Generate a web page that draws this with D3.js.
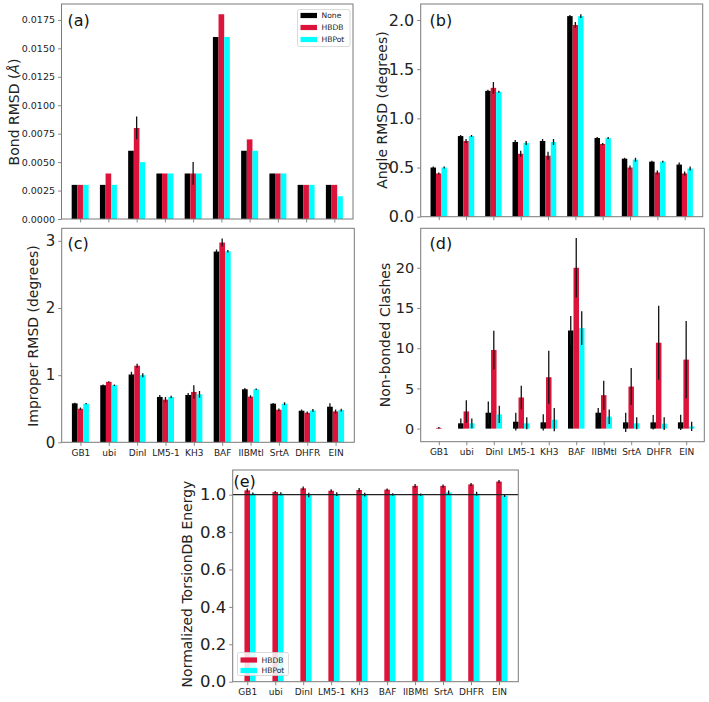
<!DOCTYPE html>
<html>
<head>
<meta charset="utf-8">
<script src="https://cdn.jsdelivr.net/npm/d3@7"></script>
<style>
  html, body { margin: 0; padding: 0; background: #fff; }
  svg { display: block; font-family: "DejaVu Sans", sans-serif; }
</style>
</head>
<body>
<svg id="chart" width="709" height="702"></svg>
<script>
// ---------------- DATA ----------------
const categories = ["GB1", "ubi", "DinI", "LM5-1", "KH3", "BAF", "IIBMtl", "SrtA", "DHFR", "EIN"];
const seriesNames = ["None", "HBDB", "HBPot"];

// (a) Bond RMSD
const bondNone  = [0.003, 0.003, 0.006, 0.004, 0.004, 0.016, 0.006, 0.004, 0.003, 0.003];
const bondHBDB  = [0.003, 0.004, 0.008, 0.004, 0.004, 0.018, 0.007, 0.004, 0.003, 0.003];
const bondHBPot = [0.003, 0.003, 0.005, 0.004, 0.004, 0.016, 0.006, 0.004, 0.003, 0.002];
const bondErrNone  = [0, 0, 0, 0, 0, 0, 0, 0, 0, 0];
const bondErrHBDB  = [0, 0, 0.001, 0, 0.001, 0, 0, 0, 0, 0];
const bondErrHBPot = [0, 0, 0, 0, 0, 0, 0, 0, 0, 0];
const bondTicks = [0, 0.0025, 0.005, 0.0075, 0.01, 0.0125, 0.015, 0.0175];

// (b) Angle RMSD
const angleNone  = [0.50, 0.82, 1.28, 0.76, 0.77, 2.04, 0.80, 0.59, 0.56, 0.53];
const angleHBDB  = [0.44, 0.77, 1.31, 0.64, 0.62, 1.95, 0.74, 0.50, 0.45, 0.44];
const angleHBPot = [0.50, 0.82, 1.27, 0.75, 0.76, 2.04, 0.80, 0.58, 0.56, 0.49];
const angleErrNone  = [0.01, 0.01, 0.01, 0.02, 0.02, 0.01, 0.01, 0.01, 0.01, 0.02];
const angleErrHBDB  = [0.01, 0.02, 0.06, 0.03, 0.04, 0.03, 0.01, 0.02, 0.02, 0.02];
const angleErrHBPot = [0.01, 0.01, 0.01, 0.02, 0.03, 0.02, 0.01, 0.02, 0.01, 0.02];
const angleTicks = [0, 0.5, 1.0, 1.5, 2.0];

// (c) Improper RMSD
const impNone  = [0.58, 0.85, 1.01, 0.675, 0.705, 2.84, 0.79, 0.575, 0.47, 0.53];
const impHBDB  = [0.50, 0.90, 1.14, 0.635, 0.75, 2.975, 0.68, 0.485, 0.44, 0.46];
const impHBPot = [0.575, 0.85, 1.00, 0.675, 0.715, 2.845, 0.79, 0.575, 0.475, 0.48];
const impErrNone  = [0.01, 0.01, 0.04, 0.03, 0.03, 0.03, 0.02, 0.01, 0.02, 0.05];
const impErrHBDB  = [0.02, 0.01, 0.03, 0.04, 0.10, 0.06, 0.02, 0.02, 0.02, 0.03];
const impErrHBPot = [0.01, 0.01, 0.03, 0.02, 0.05, 0.02, 0.01, 0.02, 0.02, 0.02];
const impTicks = [0, 1, 2, 3];

// (d) Non-bonded clashes
const clashNone  = [0, 0.66, 1.98, 0.86, 0.78, 12.2, 1.98, 0.78, 0.78, 0.78];
const clashHBDB  = [0.1, 2.14, 9.78, 3.87, 6.39, 20.0, 4.16, 5.23, 10.68, 8.58];
const clashHBPot = [0, 0.66, 1.77, 0.66, 1.11, 12.5, 1.49, 0.66, 0.62, 0.28];
const clashErrNone  = [0, 0.6, 1.4, 1.1, 1.0, 1.8, 0.57, 1.2, 0.9, 0.95];
const clashErrHBDB  = [0.1, 1.4, 2.4, 1.45, 3.3, 3.7, 1.8, 2.3, 4.6, 4.8];
const clashErrHBPot = [0, 0.6, 1.07, 0.75, 1.45, 2.1, 0.9, 0.75, 0.8, 0.58];
const clashTicks = [0, 5, 10, 15, 20];

// (e) Normalized TorsionDB energy
const torsHBDB  = [1.023, 1.014, 1.034, 1.021, 1.025, 1.027, 1.047, 1.047, 1.055, 1.070];
const torsHBPot = [1.005, 1.005, 0.998, 1.003, 1.000, 1.002, 1.000, 1.012, 1.005, 0.995];
const torsErrHBDB  = [0.010, 0.005, 0.010, 0.008, 0.010, 0.006, 0.010, 0.008, 0.008, 0.008];
const torsErrHBPot = [0.006, 0.008, 0.012, 0.010, 0.010, 0.006, 0.006, 0.010, 0.010, 0.008];
const torsTicks = [0, 0.2, 0.4, 0.6, 0.8, 1.0];
const torsRef = 1.0;

// ---------------- STYLE ----------------
const colors = { "None": "#000000", "HBDB": "#dc143c", "HBPot": "#00ffff" };
const spineColor = "#7a7a7a";
const svg = d3.select("#chart");
svg.append("rect").attr("width", 709).attr("height", 702).attr("fill", "#fff");

function drawPanel(cfg) {
  const g = svg.append("g");
  const bw = 0.2;
  const x = d3.scaleLinear().domain(cfg.xDomain).range([cfg.x0, cfg.x1]);
  // y domain from data with matplotlib-like 5% margins
  let lo = 0, hi = -Infinity;
  cfg.series.forEach(s => s.values.forEach((v, i) => {
    lo = Math.min(lo, v - s.err[i]);
    hi = Math.max(hi, v + s.err[i]);
  }));
  const R = hi - lo;
  const yDom = [lo < 0 ? lo - 0.05 * R : 0, hi + 0.05 * R];
  const y = d3.scaleLinear().domain(yDom).range([cfg.y1, cfg.y0]);

  const clipId = "clip" + cfg.letter.replace(/\W/g, "");
  svg.append("clipPath").attr("id", clipId).append("rect")
    .attr("x", cfg.x0).attr("y", cfg.y0).attr("width", cfg.x1 - cfg.x0).attr("height", cfg.y1 - cfg.y0);
  const plot = g.append("g").attr("clip-path", `url(#${clipId})`);

  // bars
  cfg.series.forEach(s => {
    plot.selectAll(null).data(s.values).join("rect")
      .attr("x", (d, i) => x(i + s.offset - bw / 2))
      .attr("width", x(bw) - x(0))
      .attr("y", d => Math.min(y(d), y(0)))
      .attr("height", d => Math.abs(y(0) - y(d)))
      .attr("fill", colors[s.name]);
  });
  // error bars (on top of all bars)
  cfg.series.forEach(s => {
    const idx = d3.range(s.values.length).filter(i => s.err[i] > 0);
    plot.selectAll(null).data(idx).join("line")
      .attr("x1", i => x(i + s.offset)).attr("x2", i => x(i + s.offset))
      .attr("y1", i => y(s.values[i] - s.err[i])).attr("y2", i => y(s.values[i] + s.err[i]))
      .attr("stroke", "#111").attr("stroke-width", 1.3);
  });
  if (cfg.refLine !== undefined) {
    plot.append("line")
      .attr("x1", cfg.x0).attr("x2", cfg.x1)
      .attr("y1", y(cfg.refLine)).attr("y2", y(cfg.refLine))
      .attr("stroke", "#222").attr("stroke-width", 1.3);
  }

  // y axis
  const yAxis = d3.axisLeft(y).tickValues(cfg.yTicks).tickFormat(d3.format(cfg.fmt))
    .tickSize(3.5).tickPadding(3);
  const ya = g.append("g").attr("transform", `translate(${cfg.x0},0)`).call(yAxis);
  ya.select(".domain").remove();
  ya.selectAll(".tick line").attr("stroke", spineColor).attr("stroke-width", 0.9);
  ya.selectAll(".tick text").attr("fill", "#222").attr("font-size", cfg.tickFont)
    .attr("font-family", "DejaVu Sans");

  // x axis
  const xAxis = d3.axisBottom(x).tickValues(d3.range(categories.length))
    .tickFormat(cfg.xLabels ? (d => categories[d]) : (() => ""))
    .tickSize(3.5).tickPadding(3.5);
  const xa = g.append("g").attr("transform", `translate(0,${cfg.y1})`).call(xAxis);
  xa.select(".domain").remove();
  xa.selectAll(".tick line").attr("stroke", spineColor).attr("stroke-width", 0.9);
  xa.selectAll(".tick text").attr("fill", "#222").attr("font-size", 9)
    .attr("font-family", "DejaVu Sans");

  // frame
  g.append("rect").attr("x", cfg.x0).attr("y", cfg.y0)
    .attr("width", cfg.x1 - cfg.x0).attr("height", cfg.y1 - cfg.y0)
    .attr("fill", "none").attr("stroke", spineColor).attr("stroke-width", 1);

  // panel letter
  g.append("text").attr("x", cfg.letterPos[0]).attr("y", cfg.letterPos[1])
    .attr("dominant-baseline", "central").attr("font-size", 16).attr("fill", "#111")
    .text(cfg.letter);

  // y label
  const yl = g.append("text")
    .attr("transform", `translate(${cfg.ylabelPos[0]},${cfg.ylabelPos[1]}) rotate(-90)`)
    .attr("text-anchor", "middle").attr("dominant-baseline", "central")
    .attr("font-size", 14).attr("fill", "#222");
  cfg.ylabel.forEach(part => {
    const t = yl.append("tspan").text(part.t);
    if (part.italic) t.attr("font-style", "italic");
  });

  // legend
  if (cfg.legend) {
    const L = cfg.legend;
    const lg = g.append("g");
    lg.append("rect").attr("x", L.x).attr("y", L.y).attr("width", L.w).attr("height", L.h)
      .attr("rx", 2).attr("fill", "#fff").attr("fill-opacity", 0.85)
      .attr("stroke", "#d0d0d0").attr("stroke-width", 0.8);
    L.items.forEach((name, k) => {
      const cy = L.y + L.first + k * L.step;
      lg.append("rect").attr("x", L.x + 3).attr("y", cy - 2.6).attr("width", 16.5).attr("height", 5.2)
        .attr("fill", colors[name]);
      lg.append("text").attr("x", L.x + 24).attr("y", cy).attr("dominant-baseline", "central")
        .attr("font-size", 7.6).attr("fill", "#222").text(name);
    });
  }
}

const mk = (vals, errs, names, offs) => vals.map((v, k) => ({ name: names[k], values: v, err: errs[k], offset: offs[k] }));

drawPanel({
  x0: 61.5, x1: 353, y0: 4, y1: 219, xDomain: [-0.66, 9.66],
  series: mk([bondNone, bondHBDB, bondHBPot], [bondErrNone, bondErrHBDB, bondErrHBPot], seriesNames, [-0.2, 0, 0.2]),
  yTicks: bondTicks, fmt: ".4f", tickFont: 9.5, xLabels: false,
  letter: "(a)", letterPos: [67.5, 20],
  ylabel: [{ t: "Bond RMSD (" }, { t: "Å", italic: true }, { t: ")" }], ylabelPos: [13.5, 112],
  legend: { x: 297.5, y: 9.5, w: 52.5, h: 37, first: 6, step: 12, items: seriesNames }
});

drawPanel({
  x0: 420.7, x1: 702.7, y0: 4, y1: 216.7, xDomain: [-0.66, 9.66],
  series: mk([angleNone, angleHBDB, angleHBPot], [angleErrNone, angleErrHBDB, angleErrHBPot], seriesNames, [-0.2, 0, 0.2]),
  yTicks: angleTicks, fmt: ".1f", tickFont: 16, xLabels: false,
  letter: "(b)", letterPos: [429.5, 20],
  ylabel: [{ t: "Angle RMSD (degrees)" }], ylabelPos: [381.5, 110]
});

drawPanel({
  x0: 61.7, x1: 354.3, y0: 228.3, y1: 442.3, xDomain: [-0.66, 9.66],
  series: mk([impNone, impHBDB, impHBPot], [impErrNone, impErrHBDB, impErrHBPot], seriesNames, [-0.2, 0, 0.2]),
  yTicks: impTicks, fmt: "d", tickFont: 15, xLabels: true,
  letter: "(c)", letterPos: [67.5, 243],
  ylabel: [{ t: "Improper RMSD (degrees)" }], ylabelPos: [33, 336]
});

drawPanel({
  x0: 420.7, x1: 704.3, y0: 228.3, y1: 441.7, xDomain: [-0.66, 9.66],
  series: mk([clashNone, clashHBDB, clashHBPot], [clashErrNone, clashErrHBDB, clashErrHBPot], seriesNames, [-0.2, 0, 0.2]),
  yTicks: clashTicks, fmt: "d", tickFont: 14.5, xLabels: true,
  letter: "(d)", letterPos: [429.5, 243],
  ylabel: [{ t: "Non-bonded Clashes" }], ylabelPos: [385, 335]
});

drawPanel({
  x0: 232.7, x1: 518.3, y0: 470, y1: 681.7, xDomain: [-0.52, 9.69],
  series: mk([torsHBDB, torsHBPot], [torsErrHBDB, torsErrHBPot], ["HBDB", "HBPot"], [0, 0.2]),
  yTicks: torsTicks, fmt: ".1f", tickFont: 16.5, xLabels: true, refLine: torsRef,
  letter: "(e)", letterPos: [233.5, 481],
  ylabel: [{ t: "Normalized TorsionDB Energy" }], ylabelPos: [186.5, 584],
  legend: { x: 237.5, y: 652.5, w: 51, h: 23, first: 7.5, step: 10.5, items: ["HBDB", "HBPot"] }
});
</script>
</body>
</html>
